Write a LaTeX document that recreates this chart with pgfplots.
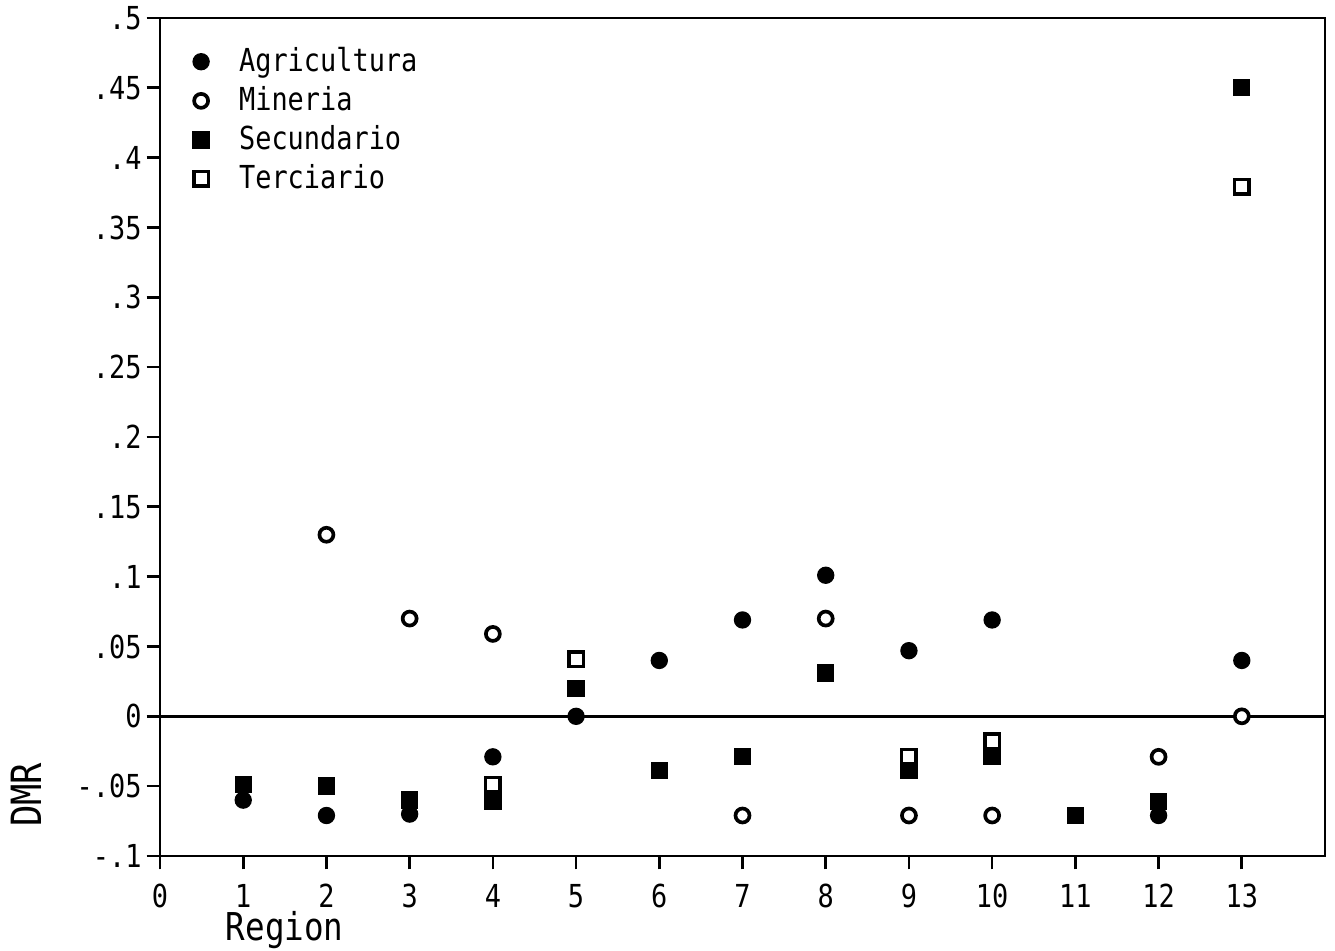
\documentclass[border=0pt]{standalone}
\usepackage{fontspec}
\usepackage{pgfplots}
\pgfplotsset{compat=1.18}
\newfontfamily\plotfont[FakeStretch=0.85]{DejaVu Sans Mono}
\begin{document}
\begin{tikzpicture}
\useasboundingbox (-48pt,-28.5pt) rectangle (352.5pt,256.8pt);
\begin{axis}[
  scale only axis,
  width=349.5pt, height=251.4pt,
  xmin=0, xmax=14, ymin=-0.1, ymax=0.5,
  axis line style={line width=0.8pt},
  xtick={0,1,2,3,4,5,6,7,8,9,10,11,12,13},
  xticklabels={0,1,2,3,4,5,6,7,8,9,10,11,12,13},
  ytick={-0.1,-0.05,0,0.05,0.1,0.15,0.2,0.25,0.3,0.35,0.4,0.45,0.5},
  yticklabels={-.1,-.05,0,.05,.1,.15,.2,.25,.3,.35,.4,.45,.5},
  tick align=outside,
  xtick pos=bottom, ytick pos=left,
  major tick length=4pt,
  tick style={line width=0.8pt, black},
  tick label style={font=\plotfont\fontsize{9.5}{10}\selectfont},
  xticklabel style={yshift=-1pt},
  yticklabel style={xshift=2pt},
  xlabel={Region},
  xlabel style={font=\plotfont\fontsize{11.5}{12}\selectfont, at={(axis description cs:0.107,0)}, anchor=north, yshift=-13pt},
  ylabel={DMR},
  ylabel style={font=\plotfont\fontsize{12.5}{13}\selectfont, at={(axis description cs:-0.115,0.073)}, anchor=center},
  legend style={at={(axis description cs:0.025,0.978)}, anchor=north west, draw=none, fill=none,
     font=\plotfont\fontsize{9.5}{10}\selectfont, row sep=-1pt, inner sep=1pt,
     /tikz/every odd column/.append style={column sep=7pt}},
  legend cell align=left,
]
\addplot[black, line width=0.8pt, forget plot] coordinates {(0,0) (14,0)};
\addplot[only marks, mark=*, mark size=2.4pt, black] coordinates {
 (1,-0.06) (2,-0.071) (3,-0.07) (4,-0.029) (5,0) (6,0.04) (7,0.069) (8,0.101)
 (9,0.047) (10,0.069) (12,-0.071) (13,0.04)};
\addlegendentry{Agricultura}
\addplot[only marks, mark=*, mark size=2.1pt, black, line width=1.1pt, mark options={fill=white}] coordinates {
 (2,0.13) (3,0.07) (4,0.059) (7,-0.071) (8,0.07) (9,-0.071) (10,-0.071) (12,-0.029) (13,0)};
\addlegendentry{Mineria}
\addplot[only marks, mark=square*, mark size=2.4pt, black] coordinates {
 (1,-0.049) (2,-0.05) (3,-0.06) (4,-0.061) (5,0.02) (6,-0.039) (7,-0.029) (8,0.031)
 (9,-0.039) (10,-0.029) (11,-0.071) (12,-0.061) (13,0.45)};
\addlegendentry{Secundario}
\addplot[only marks, mark=square*, mark size=2.2pt, black, line width=1.1pt, mark options={fill=white}] coordinates {
 (4,-0.049) (5,0.041) (9,-0.029) (10,-0.018) (13,0.379)};
\addlegendentry{Terciario}
\end{axis}
\end{tikzpicture}
\end{document}
